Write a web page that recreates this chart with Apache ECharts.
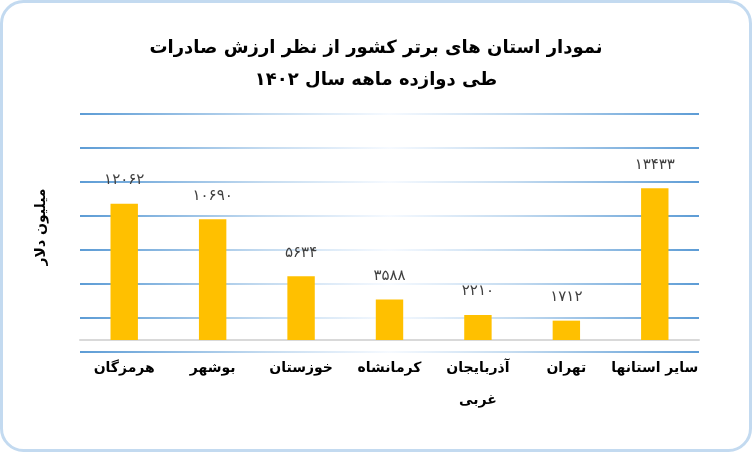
<!DOCTYPE html>
<html>
<head>
<meta charset="utf-8">
<script src="https://cdn.jsdelivr.net/npm/echarts@6/dist/echarts.min.js"></script>
<style>html,body{margin:0;padding:0;background:#fff}#c{width:752px;height:452px}</style>
</head>
<body>
<div id="c"></div>
<script>
var titleLines = ['نمودار استان های برتر کشور از نظر ارزش صادرات', 'طی دوازده ماهه سال ۱۴۰۲'];
var yAxisName = 'میلیون دلار';
var categories = ['هرمزگان', 'بوشهر', 'خوزستان', 'کرمانشاه', 'آذربایجان\nغربی', 'تهران', 'سایر استانها'];
var values = [12062, 10690, 5634, 3588, 2210, 1712, 13433];

var FONT = 'DejaVu Sans';
function toFa(n) {
  var d = '۰۱۲۳۴۵۶۷۸۹';
  return String(n).replace(/[0-9]/g, function (c) { return d[+c]; });
}
var gridGrad = {
  type: 'linear', x: 0, y: 0, x2: 1, y2: 0,
  colorStops: [
    { offset: 0, color: '#5b9bd5' },
    { offset: 0.3, color: '#c4dbf0' },
    { offset: 0.5, color: '#f6faff' },
    { offset: 0.7, color: '#c4dbf0' },
    { offset: 1, color: '#5b9bd5' }
  ]
};
var chart = echarts.init(document.getElementById('c'), null, { renderer: 'canvas' });
chart.setOption({
  backgroundColor: '#ffffff',
  animation: false,
  title: {
    text: titleLines.join('\n'),
    left: 'center',
    top: 27,
    textStyle: { fontFamily: FONT, fontSize: 18, fontWeight: 'bold', color: '#000', lineHeight: 32 }
  },
  graphic: [{
    type: 'rect',
    shape: { x: 1.5, y: 1.5, width: 749, height: 449, r: 22 },
    style: { fill: 'none', stroke: '#c3daf0', lineWidth: 3 },
    silent: true
  }],
  grid: [
    { left: 80, right: 53, top: 114, bottom: 112 },
    { left: 80, right: 53, top: 114, bottom: 100 }
  ],
  xAxis: [
    {
      gridIndex: 0, type: 'category', data: categories,
      axisLine: { lineStyle: { color: '#d9d9d9', width: 2 } },
      axisTick: { show: false },
      axisLabel: { fontFamily: FONT, fontSize: 14, fontWeight: 'bold', color: '#000', margin: 12, lineHeight: 32, interval: 0 }
    },
    { gridIndex: 1, type: 'value', show: false }
  ],
  yAxis: [
    {
      gridIndex: 0, type: 'value', min: 0, max: 20000, interval: 4000,
      name: yAxisName, nameLocation: 'middle', nameGap: 32,
      nameTextStyle: { fontFamily: FONT, fontSize: 14, fontWeight: 'bold', color: '#000' },
      axisLine: { show: false }, axisTick: { show: false }, axisLabel: { show: false },
      splitLine: { show: false }
    },
    {
      gridIndex: 1, type: 'value', min: 0, max: 7, interval: 1,
      axisLine: { show: false }, axisTick: { show: false }, axisLabel: { show: false },
      splitLine: { show: true, lineStyle: { color: gridGrad, width: 2 } }
    }
  ],
  series: [{
    type: 'bar',
    xAxisIndex: 0, yAxisIndex: 0,
    data: values,
    barWidth: '31%',
    itemStyle: { color: '#ffc000' },
    z: 5,
    label: {
      show: true, position: 'top', distance: 16,
      fontFamily: FONT, fontSize: 15, color: '#404040',
      formatter: function (p) { return toFa(p.value); }
    }
  }]
});
</script>
</body>
</html>
